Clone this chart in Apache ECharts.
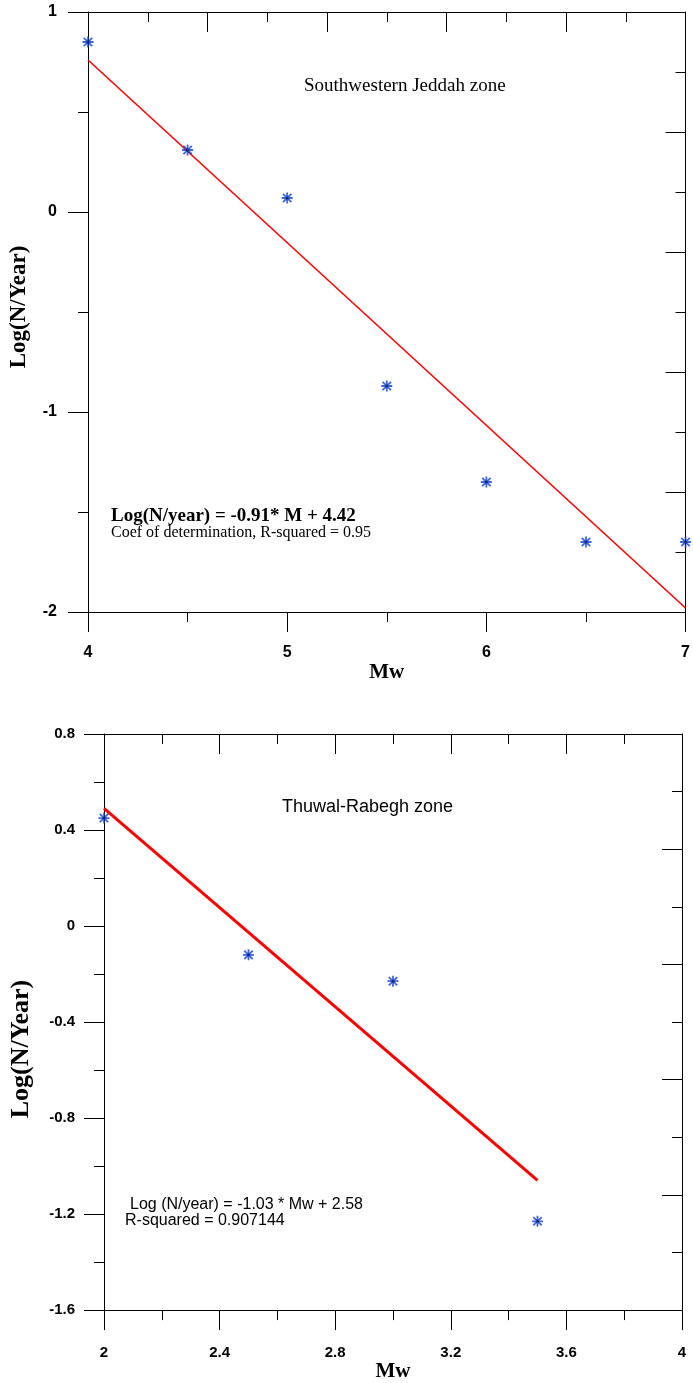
<!DOCTYPE html>
<html>
<head>
<meta charset="utf-8">
<script src="https://cdn.jsdelivr.net/npm/echarts@6/dist/echarts.min.js"></script>
<style>
html,body{margin:0;padding:0;background:#fff;}
#c{width:693px;height:1383px;}
</style>
</head>
<body>
<div id="c"></div>
<script>
// ---- Data: Southwestern Jeddah zone ----
const jeddahMw = [4, 4.5, 5, 5.5, 6, 6.5, 7];
const jeddahLogN = [0.85, 0.31, 0.07, -0.87, -1.35, -1.65, -1.65];
const jeddahFitMw = [4, 7];
const jeddahFitLogN = [0.76, -1.98];
const jeddahTitle = 'Southwestern Jeddah zone';
const jeddahEq = 'Log(N/year) = -0.91* M + 4.42';
const jeddahR2 = 'Coef of determination, R-squared = 0.95';

// ---- Data: Thuwal-Rabegh zone ----
const thuwalMw = [2, 2.5, 3, 3.5];
const thuwalLogN = [0.45, -0.12, -0.23, -1.23];
const thuwalFitMw = [2, 3.5];
const thuwalFitLogN = [0.49, -1.06];
const thuwalTitle = 'Thuwal-Rabegh zone';
const thuwalEq = 'Log (N/year) = -1.03 * Mw + 2.58';
const thuwalR2 = 'R-squared = 0.907144';

const xName = 'Mw';
const yName = 'Log(N/Year)';

const pairs = (xs, ys) => xs.map((x, i) => [x, ys[i]]);

const SERIF = '"Liberation Serif", "Times New Roman", serif';
const SANS = '"Liberation Sans", Arial, sans-serif';
const STAR = 'path://M0,4.2 L10,4.2 L10,5.8 L0,5.8 Z M4.2,0 L5.8,0 L5.8,10 L4.2,10 Z M0.6,1.75 L1.75,0.6 L9.4,8.25 L8.25,9.4 Z M8.25,0.6 L9.4,1.75 L1.75,9.4 L0.6,8.25 Z';

const lineStyle = {color: '#000', width: 1};

function mainX(gi, min, max, interval, fs, margin, nameGap, nameSize) {
  return {
    gridIndex: gi, type: 'value', position: 'bottom', min, max, interval,
    axisLine: {show: true, onZero: false, lineStyle},
    axisTick: {show: true, inside: false, length: 20, lineStyle},
    minorTick: {show: true, splitNumber: 2, length: 10, lineStyle},
    splitLine: {show: false}, minorSplitLine: {show: false},
    axisLabel: {show: true, color: '#000', fontFamily: SANS, fontWeight: 'bold', fontSize: fs, margin,
      showMinLabel: true, showMaxLabel: true},
    name: xName, nameLocation: 'middle', nameGap,
    nameTextStyle: {fontFamily: SERIF, fontWeight: 'bold', fontSize: nameSize, color: '#000'}
  };
}
function frameX(gi, min, max, interval) {
  return {
    gridIndex: gi, type: 'value', position: 'top', min, max, interval,
    axisLine: {show: true, onZero: false, lineStyle},
    axisTick: {show: true, inside: true, length: 20, lineStyle},
    minorTick: {show: true, splitNumber: 2, length: 10, lineStyle},
    splitLine: {show: false}, axisLabel: {show: false}
  };
}
function mainY(gi, min, max, interval, fs, margin, nameGap, nameSize, namePad) {
  return {
    gridIndex: gi, type: 'value', position: 'left', min, max, interval,
    axisLine: {show: true, onZero: false, lineStyle},
    axisTick: {show: true, inside: false, length: 20, lineStyle},
    minorTick: {show: true, splitNumber: 2, length: 10, lineStyle},
    splitLine: {show: false},
    axisLabel: {show: true, color: '#000', fontFamily: SANS, fontWeight: 'bold', fontSize: fs, margin,
      showMinLabel: true, showMaxLabel: true},
    name: yName, nameLocation: 'middle', nameGap, nameRotate: 90,
    nameTextStyle: {fontFamily: SERIF, fontWeight: 'bold', fontSize: nameSize, color: '#000', padding: namePad}
  };
}
function frameY(gi, min, max, interval) {
  return {
    gridIndex: gi, type: 'value', position: 'right', min, max, interval,
    axisLine: {show: true, onZero: false, lineStyle},
    axisTick: {show: true, inside: true, length: 20, lineStyle},
    minorTick: {show: true, splitNumber: 2, length: 10, lineStyle},
    splitLine: {show: false}, axisLabel: {show: false}
  };
}

function starSeries(xi, yi, data) {
  return [
    {
      type: 'scatter', xAxisIndex: xi, yAxisIndex: yi, data,
      symbol: STAR, symbolSize: 11, itemStyle: {color: '#0c3fd6'}, clip: false, z: 3
    },
    {
      type: 'scatter', xAxisIndex: xi, yAxisIndex: yi, data,
      symbol: 'circle', symbolSize: 3, itemStyle: {color: '#0a1a50'}, clip: false, z: 4, silent: true
    }
  ];
}

const option = {
  backgroundColor: '#fff',
  animation: false,
  grid: [
    {left: 87, top: 12, width: 599, height: 600},
    {left: 102, top: 734, width: 580, height: 578}
  ],
  xAxis: [
    mainX(0, 4, 7, 1, 16, 33, 50, 21),
    frameX(0, 0, 10, 2),
    mainX(1, 2, 4, 0.4, 15, 35, 50, 21),
    frameX(1, 2, 4, 0.4)
  ],
  yAxis: [
    mainY(0, -2, 1, 1, 16, 31, 57, 23, [0, 0, 0, 10]),
    frameY(0, 0, 10, 2),
    mainY(1, -1.6, 0.8, 0.4, 15, 29, 70, 26, [0, 54, 0, 0]),
    frameY(1, 0, 10, 2)
  ],
  series: [
    {
      type: 'line', xAxisIndex: 0, yAxisIndex: 0, data: pairs(jeddahFitMw, jeddahFitLogN),
      symbol: 'none', lineStyle: {color: '#ff0000', width: 1.6}, z: 2
    },
    ...starSeries(0, 0, pairs(jeddahMw, jeddahLogN)),
    {
      type: 'line', xAxisIndex: 2, yAxisIndex: 2, data: pairs(thuwalFitMw, thuwalFitLogN),
      symbol: 'none', lineStyle: {color: '#ff0000', width: 3}, z: 2
    },
    ...starSeries(2, 2, pairs(thuwalMw, thuwalLogN))
  ],
  graphic: [
    {type: 'text', left: 304, top: 77, style: {text: jeddahTitle, fill: '#000', font: '19px ' + SERIF}},
    {type: 'text', left: 111, top: 507, style: {text: jeddahEq, fill: '#000', font: 'bold 19px ' + SERIF}},
    {type: 'text', left: 111, top: 525, style: {text: jeddahR2, fill: '#000', font: '16px ' + SERIF}},
    {type: 'text', left: 282, top: 798, style: {text: thuwalTitle, fill: '#000', font: '18px ' + SANS}},
    {type: 'text', left: 130, top: 1197, style: {text: thuwalEq, fill: '#000', font: '16px ' + SANS}},
    {type: 'text', left: 125, top: 1213, style: {text: thuwalR2, fill: '#000', font: '16px ' + SANS}}
  ]
};

const chart = echarts.init(document.getElementById('c'), null, {renderer: 'canvas'});
chart.setOption(option);
</script>
</body>
</html>
